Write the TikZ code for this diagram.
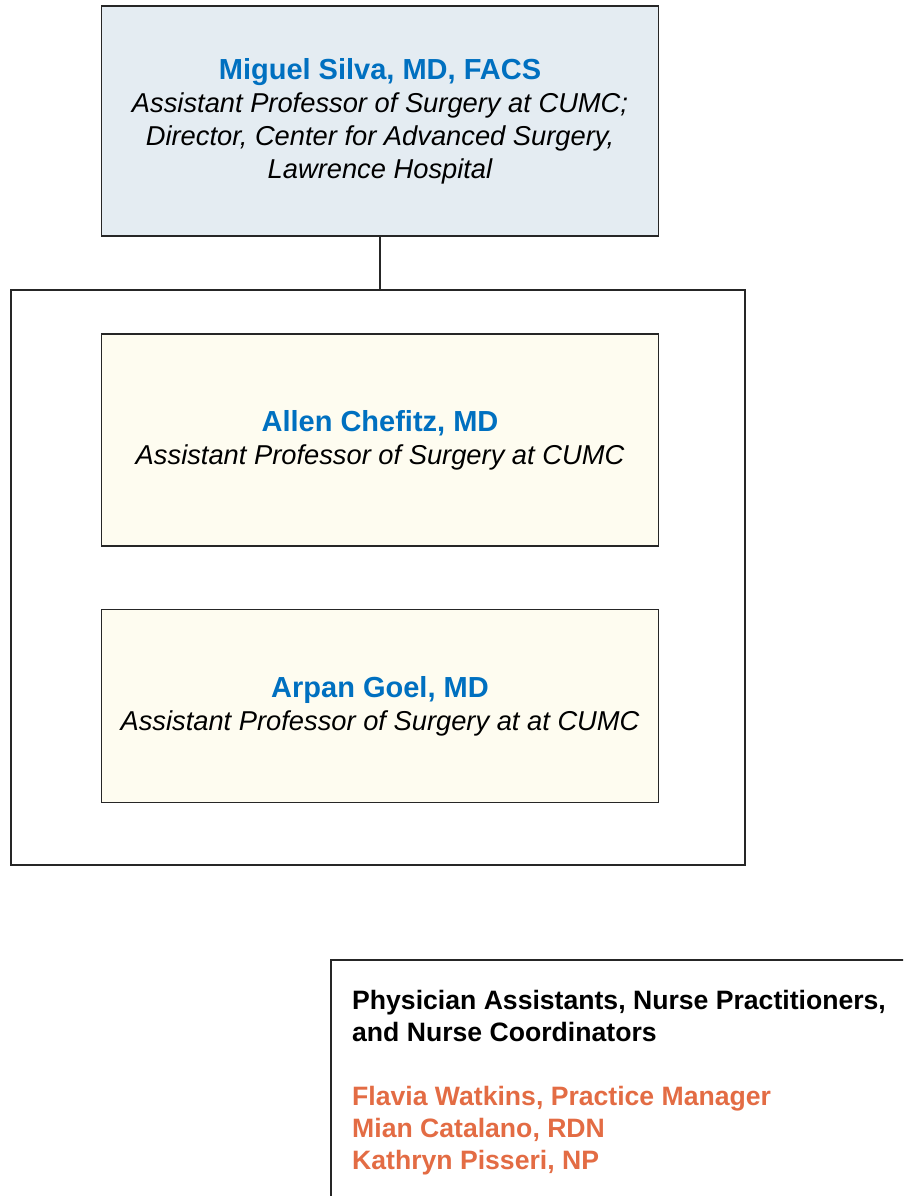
\documentclass[tikz,border=0pt]{standalone}
\usepackage{fontspec}
\setmainfont{Liberation Sans}
\usepackage{xcolor}
\usetikzlibrary{positioning}

\definecolor{nameblue}{HTML}{0070C0}
\definecolor{staffred}{HTML}{E36C44}
\definecolor{leadfill}{HTML}{E4ECF2}
\definecolor{memberfill}{HTML}{FEFCF0}

\newcommand{\docname}[1]{{\upshape\bfseries\color{nameblue}\fontsize{29}{34}\selectfont #1}}

\begin{document}
\begin{tikzpicture}[x=1pt, y=-1pt,
    frame/.style={draw=black!85, line width=1.6pt},
    card/.style={frame, minimum width=557pt, align=center, inner sep=0pt,
      font=\fontsize{27.3}{33}\selectfont\itshape},
    leadcard/.style={card, fill=leadfill, minimum height=230pt},
    membercard/.style={card, fill=memberfill}]
    \useasboundingbox (0,0) rectangle (903,1196);
    \clip (0,0) rectangle (903,1196);
    % Chief of the division
    \node[leadcard] (silva) at (380,121) {\docname{Miguel Silva, MD, FACS}\\
      Assistant Professor of Surgery at CUMC;\\
      Director, Center for Advanced Surgery,\\
      Lawrence Hospital};
    % Group of surgeons
    \node[frame, minimum width=734pt, minimum height=575pt, inner sep=0pt] (team) at (378,577.5) {};
    \node[membercard, minimum height=212pt] (chefitz) at (380,440) {\docname{Allen Chefitz, MD}\\
      Assistant Professor of Surgery at CUMC};
    \node[membercard, minimum height=193pt] (goel) at (380,706) {\docname{Arpan Goel, MD}\\
      Assistant Professor of Surgery at at CUMC};
    \draw[frame] (silva.south) -- (silva.south |- team.north);
    % Support staff
    \node[frame, anchor=north west, minimum width=620pt, minimum height=300pt, inner sep=0pt] (staff) at (330,959) {};
    \node[anchor=north west, align=left, inner sep=0pt,
      font=\bfseries\fontsize{26.6}{32.3}\selectfont] (stafflist) at (352,990)
      {Physician Assistants, Nurse Practitioners,\\
       and Nurse Coordinators\\[31pt]
       \textcolor{staffred}{Flavia Watkins, Practice Manager}\\
       \textcolor{staffred}{Mian Catalano, RDN}\\
       \textcolor{staffred}{Kathryn Pisseri, NP}};
\end{tikzpicture}
\end{document}
